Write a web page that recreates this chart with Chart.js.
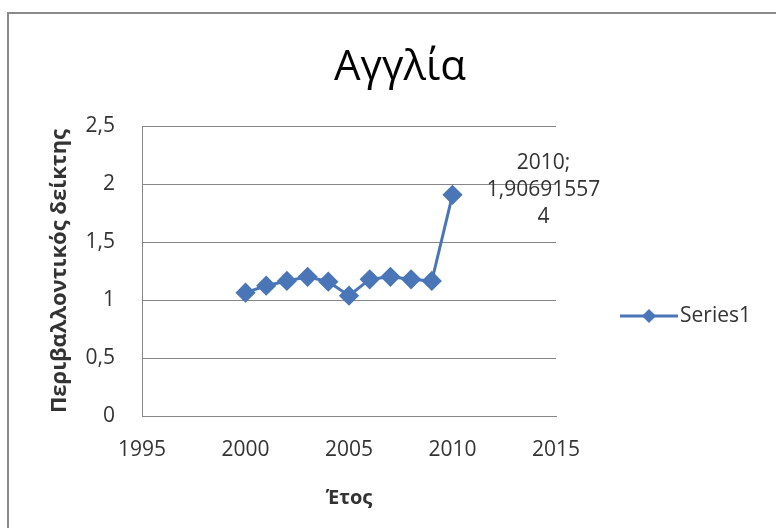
<!DOCTYPE html>
<html>
<head>
<meta charset="utf-8">
<script src="https://cdn.jsdelivr.net/npm/chart.js@4/dist/chart.umd.min.js"></script>
<style>
  html, body { margin: 0; padding: 0; background: #fff; }
  #wrap { position: relative; width: 776px; height: 528px; overflow: hidden; }
  #frame { position: absolute; left: 7px; top: 12px; width: 780px; height: 540px; border: 2px solid #8a8a8a; box-sizing: border-box; }
  canvas { position: absolute; left: 0; top: 0; }
</style>
</head>
<body>
<div id="wrap">
  <div id="frame"></div>
  <canvas id="c" width="776" height="528"></canvas>
</div>
<script>
// Environmental index for England, 2000-2010 (Excel scatter with lines)
const years = [2000, 2001, 2002, 2003, 2004, 2005, 2006, 2007, 2008, 2009, 2010];
const values = [1.063, 1.123, 1.164, 1.200, 1.158, 1.037, 1.178, 1.200, 1.178, 1.164, 1.906915574];
const xTicks = [1995, 2000, 2005, 2010, 2015];
const yTicks = [0, 0.5, 1, 1.5, 2, 2.5];
const labelLines = ['2010;', '1,90691557', '4'];

const BLUE = '#4a76b8';
const TEXT = '#333';
const FONT = '"Open Sans", "Noto Sans", sans-serif';

const comma = v => String(v).replace('.', ',');

// title, data label on the last point, legend entry
const decor = {
  id: 'decor',
  afterDraw(chart) {
    const ctx = chart.ctx;
    ctx.save();
    ctx.fillStyle = '#000';
    ctx.font = '42px ' + FONT;
    ctx.textAlign = 'center';
    ctx.textBaseline = 'middle';
    ctx.fillText('Αγγλία', 400, 68);

    // data label next to last point
    const pts = chart.getDatasetMeta(0).data;
    const p = pts[pts.length - 1];
    ctx.fillStyle = TEXT;
    ctx.font = '21px ' + FONT;
    labelLines.forEach((t, i) => {
      ctx.fillText(t, p.x + 91, p.y - 32 + i * 27);
    });

    // legend
    const ly = 316;
    ctx.strokeStyle = BLUE;
    ctx.lineWidth = 3;
    ctx.beginPath();
    ctx.moveTo(620, ly);
    ctx.lineTo(678, ly);
    ctx.stroke();
    ctx.fillStyle = BLUE;
    ctx.beginPath();
    ctx.moveTo(649, ly - 7);
    ctx.lineTo(656, ly);
    ctx.lineTo(649, ly + 7);
    ctx.lineTo(642, ly);
    ctx.closePath();
    ctx.fill();
    ctx.fillStyle = TEXT;
    ctx.textAlign = 'left';
    ctx.fillText('Series1', 680, ly);
    ctx.restore();
  }
};

new Chart(document.getElementById('c'), {
  type: 'scatter',
  data: {
    datasets: [{
      label: 'Series1',
      data: years.map((y, i) => ({ x: y, y: values[i] })),
      showLine: true,
      borderColor: BLUE,
      backgroundColor: BLUE,
      borderWidth: 3,
      pointStyle: 'rectRot',
      pointRadius: 8,
      pointHoverRadius: 8,
    }],
  },
  options: {
    responsive: false,
    animation: false,
    layout: { padding: { left: 43, right: 220, top: 126, bottom: 14 } },
    plugins: { legend: { display: false }, tooltip: { enabled: false } },
    scales: {
      x: {
        type: 'linear',
        min: 1995, max: 2015,
        afterBuildTicks: s => { s.ticks = xTicks.map(v => ({ value: v })); },
        afterFit: s => { s.height = 98; },
        grid: { color: 'rgba(0,0,0,0)', drawTicks: false },
        border: { display: true, color: '#868686', width: 1 },
        ticks: { color: TEXT, font: { family: FONT, size: 21 }, padding: 21, maxRotation: 0, callback: v => String(v) },
        title: { display: true, text: 'Έτος', color: TEXT, font: { family: FONT, size: 20, weight: 'bold' } },
      },
      y: {
        min: 0, max: 2.5,
        afterBuildTicks: s => { s.ticks = yTicks.map(v => ({ value: v })); },
        afterFit: s => { s.width = 99; },
        grid: { color: '#868686', lineWidth: 1, drawTicks: false },
        border: { display: true, color: '#868686', width: 1 },
        ticks: { color: TEXT, font: { family: FONT, size: 21 }, padding: 27, callback: v => comma(v) },
        title: { display: true, text: 'Περιβαλλοντικός δείκτης', color: TEXT, font: { family: FONT, size: 22, weight: 'bold' } },
      },
    },
  },
  plugins: [decor],
});
</script>
</body>
</html>
